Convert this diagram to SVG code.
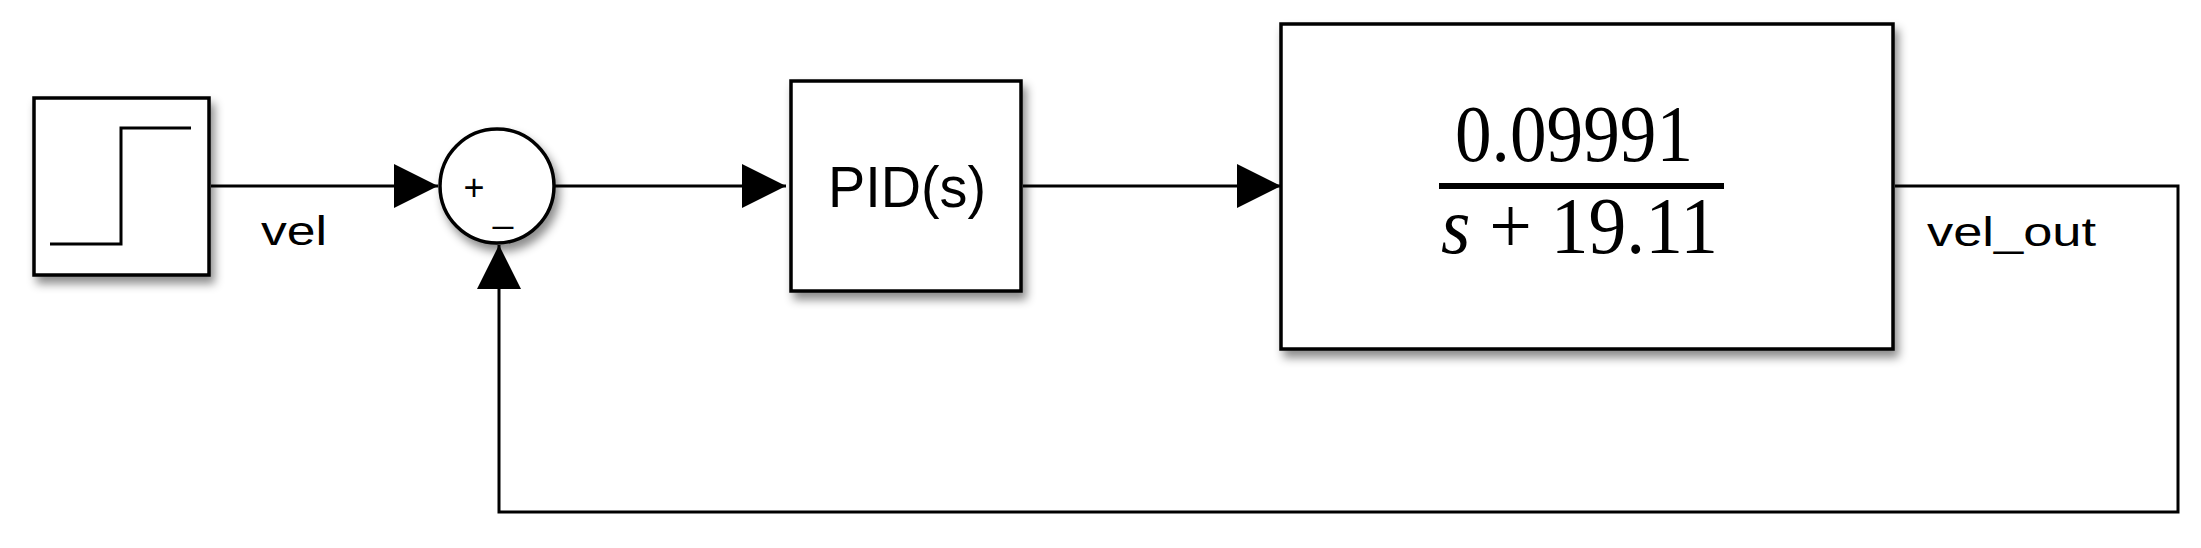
<svg xmlns="http://www.w3.org/2000/svg" width="2201" height="548" viewBox="0 0 2201 548">
<defs>
<style>
.blk{fill:#fff;stroke:#000;stroke-width:3.5;filter:url(#sh)}
.ln{fill:none;stroke:#000;stroke-width:3}
.lbl{font-family:"Liberation Sans",Arial,sans-serif;font-size:40px;fill:#000}
.tf{font-family:"Liberation Serif","Times New Roman",serif;font-size:80px;fill:#000}
</style>
<filter id="sh" x="-10%" y="-10%" width="130%" height="130%">
<feDropShadow dx="4" dy="7" stdDeviation="5" flood-color="#000" flood-opacity="0.45"/>
</filter>
<marker id="ar" markerWidth="44" markerHeight="44" refX="44" refY="22" orient="auto" markerUnits="userSpaceOnUse">
<path d="M0,0 L44,22 L0,44 Z" fill="#000"/>
</marker>
</defs>
<g id="step">
<rect class="blk" x="34" y="98" width="175" height="177"/>
<path class="ln" d="M50,244 H121 V128 H191"/>
</g>
<g id="sum">
<circle class="blk" cx="497" cy="186" r="57"/>
<text class="lbl" x="474" y="200" text-anchor="middle" style="font-size:36px">+</text>
<text class="lbl" x="503" y="222" text-anchor="middle" style="font-size:36px">_</text>
</g>
<g id="pid">
<rect class="blk" x="791" y="81" width="230" height="210"/>
<text class="lbl" x="828" y="207" textLength="158" lengthAdjust="spacingAndGlyphs" style="font-size:58px">PID(s)</text>
</g>
<g id="plant">
<rect class="blk" x="1281" y="24" width="612" height="325"/>
<text class="tf" x="1455" y="161" textLength="238" lengthAdjust="spacingAndGlyphs">0.09991</text>
<line x1="1439" y1="186" x2="1724" y2="186" stroke="#000" stroke-width="6"/>
<text class="tf" x="1441" y="253" textLength="277" lengthAdjust="spacingAndGlyphs"><tspan font-style="italic">s</tspan> + 19.11</text>
</g>
<g id="connectors">
<path class="ln" d="M211,186 H438" marker-end="url(#ar)"/>
<path class="ln" d="M554,186 H786" marker-end="url(#ar)"/>
<path class="ln" d="M1023,186 H1281" marker-end="url(#ar)"/>
<path class="ln" d="M1895,186 H2178 V512 H499 V245" marker-end="url(#ar)"/>
<text class="lbl" x="261" y="245" textLength="66" lengthAdjust="spacingAndGlyphs">vel</text>
<text class="lbl" x="1927" y="246" textLength="169" lengthAdjust="spacingAndGlyphs">vel_out</text>
</g>
</svg>
